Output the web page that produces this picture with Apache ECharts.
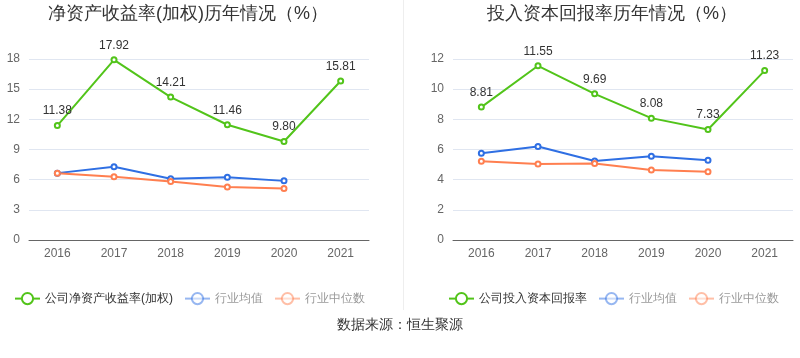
<!DOCTYPE html>
<html><head><meta charset="utf-8">
<script src="https://cdn.jsdelivr.net/npm/echarts@6/dist/echarts.min.js"></script>
<style>html,body{margin:0;padding:0;background:#fff}#c{width:800px;height:358px}</style>
</head><body><div id="c"></div>
<script>
const years = ['2016','2017','2018','2019','2020','2021'];
const roeCompany = [11.38, 17.92, 14.21, 11.46, 9.80, 15.81];
const roeMean = [6.65, 7.28, 6.10, 6.25, 5.88];
const roeMedian = [6.65, 6.30, 5.82, 5.26, 5.13];
const roicCompany = [8.81, 11.55, 9.69, 8.08, 7.33, 11.23];
const roicMean = [5.75, 6.20, 5.24, 5.56, 5.29];
const roicMedian = [5.22, 5.04, 5.07, 4.64, 4.53];
const leftTitle = '净资产收益率(加权)历年情况（%）';
const rightTitle = '投入资本回报率历年情况（%）';
const nameRoe = '公司净资产收益率(加权)';
const nameRoic = '公司投入资本回报率';
const nameMean = '行业均值';
const nameMedian = '行业中位数';

const GREEN = '#52c41a', BLUE = '#2f6fe3', ORANGE = '#ff7f50';
const chart = echarts.init(document.getElementById('c'));

function legendData(first){
  return [
    {name:first, textStyle:{color:'#333'}},
    {name:nameMean, textStyle:{color:'#999'}, itemStyle:{opacity:0.5}, lineStyle:{opacity:0.5}},
    {name:nameMedian, textStyle:{color:'#999'}, itemStyle:{opacity:0.5}, lineStyle:{opacity:0.5}}
  ];
}
function xAxis(i){
  return {type:'category', gridIndex:i, data:years, boundaryGap:true,
    axisLine:{lineStyle:{color:'#666'}}, axisTick:{alignWithLabel:true, lineStyle:{color:'#666'}},
    axisLabel:{color:'#666', fontSize:12, margin:8}};
}
function yAxis(i, max, interval){
  return {type:'value', gridIndex:i, min:0, max:max, interval:interval,
    axisLine:{show:false}, axisTick:{show:false},
    axisLabel:{color:'#666', fontSize:12, margin:9},
    splitLine:{lineStyle:{color:'#e0e6f1'}}};
}
function line(name, data, color, i, label){
  return {name:name, type:'line', xAxisIndex:i, yAxisIndex:i, data:data,
    symbol:'emptyCircle', symbolSize:5, lineStyle:{width:2, color:color},
    itemStyle:{color:color}, z: label?3:2,
    label:{show:!!label, position:'top', color:'#333', fontSize:12, formatter:p=>p.value.toFixed(2)}};
}
chart.setOption({
  animation:false,
  title:[
    {text:leftTitle, left:43, top:0, textStyle:{fontSize:18, fontWeight:'normal', color:'#333'}},
    {text:rightTitle, left:482, top:0, textStyle:{fontSize:18, fontWeight:'normal', color:'#333'}}
  ],
  legend:[
    {data:legendData(nameRoe), left:9, top:287, itemWidth:25, itemHeight:14, itemGap:11, textStyle:{fontSize:12}},
    {data:legendData(nameRoic), left:443, top:287, itemWidth:25, itemHeight:14, itemGap:11, textStyle:{fontSize:12}}
  ],
  grid:[
    {left:29, top:59, width:340, height:181},
    {left:453, top:59, width:340, height:181}
  ],
  xAxis:[xAxis(0), xAxis(1)],
  yAxis:[yAxis(0,18,3), yAxis(1,12,2)],
  series:[
    line(nameRoe, roeCompany, GREEN, 0, true),
    line(nameMean, roeMean, BLUE, 0, false),
    line(nameMedian, roeMedian, ORANGE, 0, false),
    line(nameRoic, roicCompany, GREEN, 1, true),
    line(nameMean, roicMean, BLUE, 1, false),
    line(nameMedian, roicMedian, ORANGE, 1, false)
  ],
  graphic:[
    {type:'line', shape:{x1:403.5, y1:0, x2:403.5, y2:310}, style:{stroke:'#eeeeee', lineWidth:1}},
    {type:'text', left:'center', top:318, style:{text:'数据来源：恒生聚源', fontSize:14, fill:'#333'}}
  ]
});
</script></body></html>
